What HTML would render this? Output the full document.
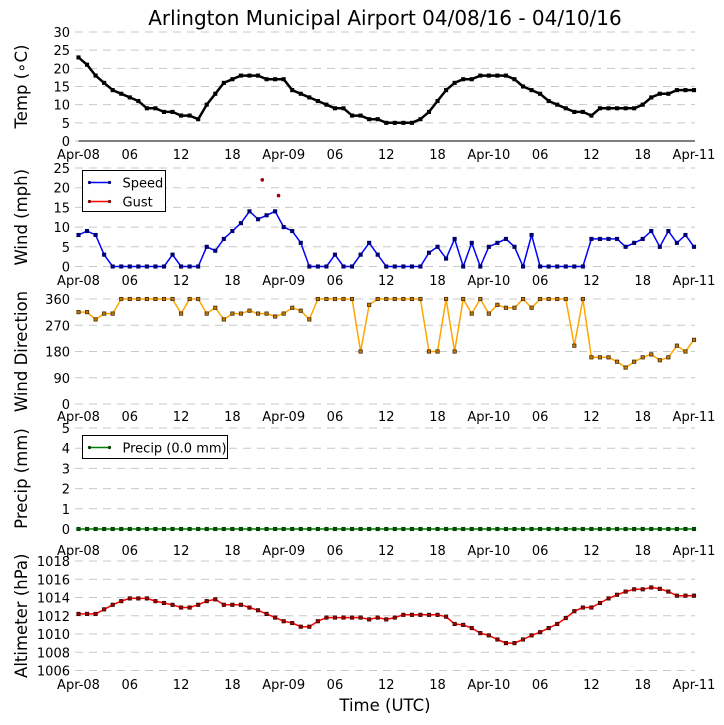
<!DOCTYPE html>
<html><head><meta charset="utf-8"><style>
body{margin:0;background:#fff}
svg{display:block;font-family:"DejaVu Sans","Liberation Sans",sans-serif}
</style></head><body>
<svg id="chart" width="724" height="725" viewBox="0 0 724 725" xmlns="http://www.w3.org/2000/svg">
<text x="385" y="25" font-size="20" text-anchor="middle">Arlington Municipal Airport 04/08/16 - 04/10/16</text>
<text x="385" y="711" font-size="16.5" text-anchor="middle">Time (UTC)</text>
</svg>
<script>
const hours = Array.from({length:73},(_, i)=>i);
const xTickLabels = ["Apr-08","06","12","18","Apr-09","06","12","18","Apr-10","06","12","18","Apr-11"];
const xTickHours = [0,6,12,18,24,30,36,42,48,54,60,66,72];
const tempValues = [23,21,18,16,14,13,12,11,9,9,8,8,7,7,6,10,13,16,17,18,18,18,17,17,17,14,13,12,11,10,9,9,7,7,6,6,5,5,5,5,6,8,11,14,16,17,17,18,18,18,18,17,15,14,13,11,10,9,8,8,7,9,9,9,9,9,10,12,13,13,14,14,14];
const speedValues = [8,9,8,3,0,0,0,0,0,0,0,3,0,0,0,5,4,7,9,11,14,12,13,14,10,9,6,0,0,0,3,0,0,3,6,3,0,0,0,0,0,3.5,5,2,7,0,6,0,5,6,7,5,0,8,0,0,0,0,0,0,7,7,7,7,5,6,7,9,5,9,6,8,5];
const gustHours = [21.5,23.4];
const gustValues = [22,18];
const dirValues = [315,315,290,310,310,360,360,360,360,360,360,360,310,360,360,310,330,290,310,310,320,310,310,300,310,330,320,290,360,360,360,360,360,180,340,360,360,360,360,360,360,180,180,360,180,360,310,360,310,340,330,330,360,330,360,360,360,360,200,360,160,160,160,145,125,145,160,170,150,160,200,180,220];
const precipValues = new Array(73).fill(0);
const altValues = [1012.2,1012.2,1012.2,1012.7,1013.2,1013.6,1013.9,1013.9,1013.9,1013.6,1013.4,1013.2,1012.9,1012.9,1013.2,1013.6,1013.8,1013.2,1013.2,1013.2,1012.9,1012.6,1012.2,1011.8,1011.4,1011.2,1010.8,1010.8,1011.4,1011.8,1011.8,1011.8,1011.8,1011.8,1011.6,1011.8,1011.6,1011.8,1012.1,1012.1,1012.1,1012.1,1012.1,1011.9,1011.1,1011.0,1010.65,1010.1,1009.85,1009.4,1009.0,1009.0,1009.4,1009.85,1010.2,1010.65,1011.1,1011.75,1012.5,1012.9,1012.9,1013.4,1013.9,1014.3,1014.65,1014.9,1014.9,1015.1,1014.95,1014.65,1014.2,1014.2,1014.2];

const svg = document.getElementById('chart');
const NS = 'http://www.w3.org/2000/svg';
const X0 = 78.5, X1 = 694;
const xScale = h => X0 + (X1 - X0) * h / 72;
function mk(tag, attrs, parent){const e=document.createElementNS(NS,tag);for(const k in attrs)e.setAttribute(k,attrs[k]);(parent||svg).appendChild(e);return e;}

const panels = [
 {name:'temp', label:'Temp (\u2218C)', yTop:32, yBot:141, min:0, max:30, ticks:[0,5,10,15,20,25,30], xlabY:159, axisLine:true},
 {name:'wind', label:'Wind (mph)', yTop:168, yBot:266.5, min:0, max:25, ticks:[0,5,10,15,20,25], xlabY:285},
 {name:'direction', label:'Wind Direction', yTop:299, yBot:404, min:0, max:360, ticks:[0,90,180,270,360], xlabY:421},
 {name:'precip', label:'Precip (mm)', yTop:428, yBot:529, min:0, max:5, ticks:[0,1,2,3,4,5], xlabY:555},
 {name:'altimeter', label:'Altimeter (hPa)', yTop:561, yBot:670.5, min:1006, max:1018, ticks:[1006,1008,1010,1012,1014,1016,1018], xlabY:689}
];
panels.forEach(p=>{
  p.y = v => p.yBot - (v - p.min) / (p.max - p.min) * (p.yBot - p.yTop);
  const g = mk('g',{});
  
  
  p.ticks.forEach(t=>{
    const yy = p.y(t);
    const gl = mk('line',{x1:75,x2:695,y1:yy,y2:yy,stroke:'#c8c8c8','stroke-width':1,'stroke-dasharray':'8,6'},g);
    
    
    const tl = mk('text',{x:70,y:yy+5,'font-size':13,'text-anchor':'end'},g);
    
    
    tl.textContent = t;
  });
  if(p.axisLine){
    const al = mk('line',{x1:X0,x2:X1+1,y1:p.yBot,y2:p.yBot,stroke:'#000','stroke-width':1},g);
    
    
  }
  xTickHours.forEach((h,i)=>{
    const tx = mk('text',{x:xScale(h),y:p.xlabY,'font-size':13,'text-anchor':'middle'},g);
    
    
    tx.textContent = xTickLabels[i];
  });
  const cy = (p.yTop + p.yBot)/2;
  const yl = mk('text',{x:0,y:0,'font-size':16.5,'text-anchor':'middle',transform:`translate(27,${cy}) rotate(-90)`},g);
  
  
  yl.textContent = p.label;
});

function series(p, xs, vals, color, width, mFill, mStroke, name){
  const pts = vals.map((v,i)=>xScale(xs[i]).toFixed(1)+','+p.y(v).toFixed(1)).join(' ');
  const line = mk('polyline',{points:pts,fill:'none',stroke:color,'stroke-width':width,'stroke-linejoin':'round'});
  
  
  vals.forEach((v,i)=>{
    const m = mk('rect',{x:xScale(xs[i])-1.7,y:p.y(v)-1.7,width:3.4,height:3.4,fill:mFill,stroke:mStroke,'stroke-width':0.7});
    
    
  });
}
series(panels[0], hours, tempValues, '#000', 2.5, '#000', '#000', 'temperature');
series(panels[1], hours, speedValues, '#0000ff', 1.5, '#000080', '#000060', 'wind-speed');
gustValues.forEach((v,i)=>{
  const c = mk('circle',{cx:xScale(gustHours[i]),cy:panels[1].y(v),r:1.8,fill:'#a00000'});
  
  
});
series(panels[2], hours, dirValues, '#ffa500', 1.5, '#c07800', '#3a2000', 'wind-direction');
series(panels[3], hours, precipValues, '#008000', 1.5, '#005000', '#004000', 'precip');
series(panels[4], hours, altValues, '#ff0000', 1.5, '#a00000', '#300000', 'altimeter');

function legend(x,y,w,h,items,name){
  const g = mk('g',{});
  
  
  mk('rect',{x:x,y:y,width:w,height:h,fill:'#fff',stroke:'#000','stroke-width':1},g);
  items.forEach((it,i)=>{
    const yy = y+12+i*19;
    mk('line',{x1:x+7,x2:x+27,y1:yy,y2:yy,stroke:it.c,'stroke-width':1.5},g);
    mk('circle',{cx:x+7,cy:yy,r:1.6,fill:it.m},g);
    mk('circle',{cx:x+27,cy:yy,r:1.6,fill:it.m},g);
    const t = mk('text',{x:x+40,y:yy+5,'font-size':13},g);
    
    
    t.textContent = it.t;
  });
}
legend(82.5,170.5,83,41,[{t:'Speed',c:'#0000ff',m:'#000080'},{t:'Gust',c:'#ff0000',m:'#800000'}],'wind-legend');
legend(82.5,435.5,145,23,[{t:'Precip (0.0 mm)',c:'#008000',m:'#004000'}],'precip-legend');
</script>
</body></html>
